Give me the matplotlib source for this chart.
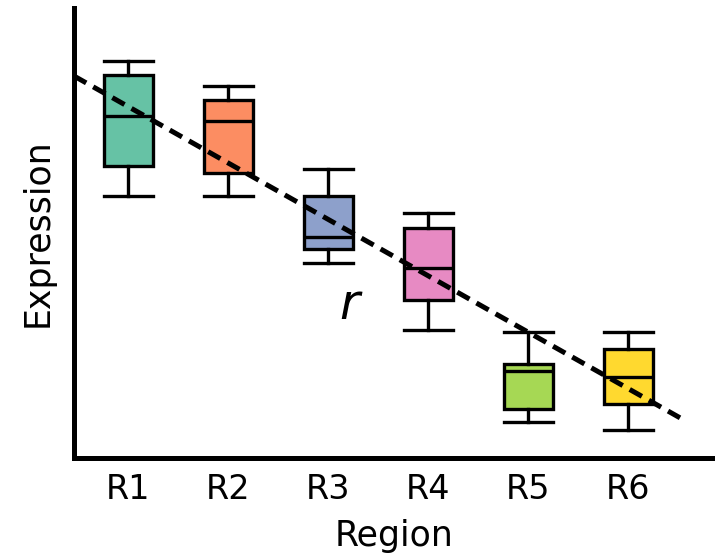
"""Boxplots of expression by region with a dashed linear trend."""

import matplotlib
matplotlib.use("Agg")
import matplotlib.pyplot as plt

# Data (arbitrary expression units)
regions = ["R1", "R2", "R3", "R4", "R5", "R6"]
whisker_high = [39.7, 37.2, 28.9, 24.5, 12.6, 12.6]
q3 = [38.3, 35.8, 26.2, 23.0, 9.4, 10.9]
median = [34.2, 33.7, 22.1, 19.0, 8.7, 8.1]
q1 = [29.2, 28.5, 20.9, 15.8, 4.9, 5.4]
whisker_low = [26.2, 26.2, 19.5, 12.8, 3.6, 2.8]
colors = ["#66c2a5", "#fc8d62", "#8da0cb", "#e78ac3", "#a6d854", "#ffd92f"]

# Trend line: value at R1 and change per region
trend_at_r1 = 35.15
trend_slope = -5.64
trend_x = [0.46, 6.52]


def main():
    fig = plt.figure(figsize=(7.15, 5.54), dpi=100)
    ax = fig.add_axes([0.1035, 0.1733, 0.8965, 0.8123])

    stats = [
        {"whislo": lo, "q1": a, "med": m, "q3": b, "whishi": hi, "fliers": []}
        for lo, a, m, b, hi in zip(whisker_low, q1, median, q3, whisker_high)
    ]
    positions = list(range(1, len(regions) + 1))
    line_kw = {"color": "black", "linewidth": 2.4}
    bp = ax.bxp(
        stats,
        positions=positions,
        widths=0.49,
        capwidths=0.49,
        patch_artist=True,
        showfliers=False,
        boxprops={"edgecolor": "black", "linewidth": 2.4},
        medianprops=line_kw,
        whiskerprops=line_kw,
        capprops=line_kw,
    )
    for patch, color in zip(bp["boxes"], colors):
        patch.set_facecolor(color)

    # Dashed trend line
    trend_y = [trend_at_r1 + trend_slope * (x - 1) for x in trend_x]
    ax.plot(trend_x, trend_y, color="black", linewidth=3.6,
            linestyle=(0, (2.8, 1.6)), zorder=5)

    ax.text(3.21, 15.3, "r", fontsize=35, fontstyle="italic",
            ha="center", va="center")

    ax.set_xlim(0.46, 6.87)
    ax.set_ylim(0, 45)
    ax.set_xticks(positions)
    ax.set_xticklabels(regions)
    ax.set_yticks([])
    ax.tick_params(axis="x", length=0, pad=11, labelsize=24)
    ax.set_xlabel("Region", fontsize=25, labelpad=9)
    ax.set_ylabel("Expression", fontsize=25, labelpad=14)

    for side in ["top", "right"]:
        ax.spines[side].set_visible(False)
    for side in ["left", "bottom"]:
        ax.spines[side].set_linewidth(3.6)

    fig.savefig("out.png", dpi=100)


if __name__ == "__main__":
    main()
